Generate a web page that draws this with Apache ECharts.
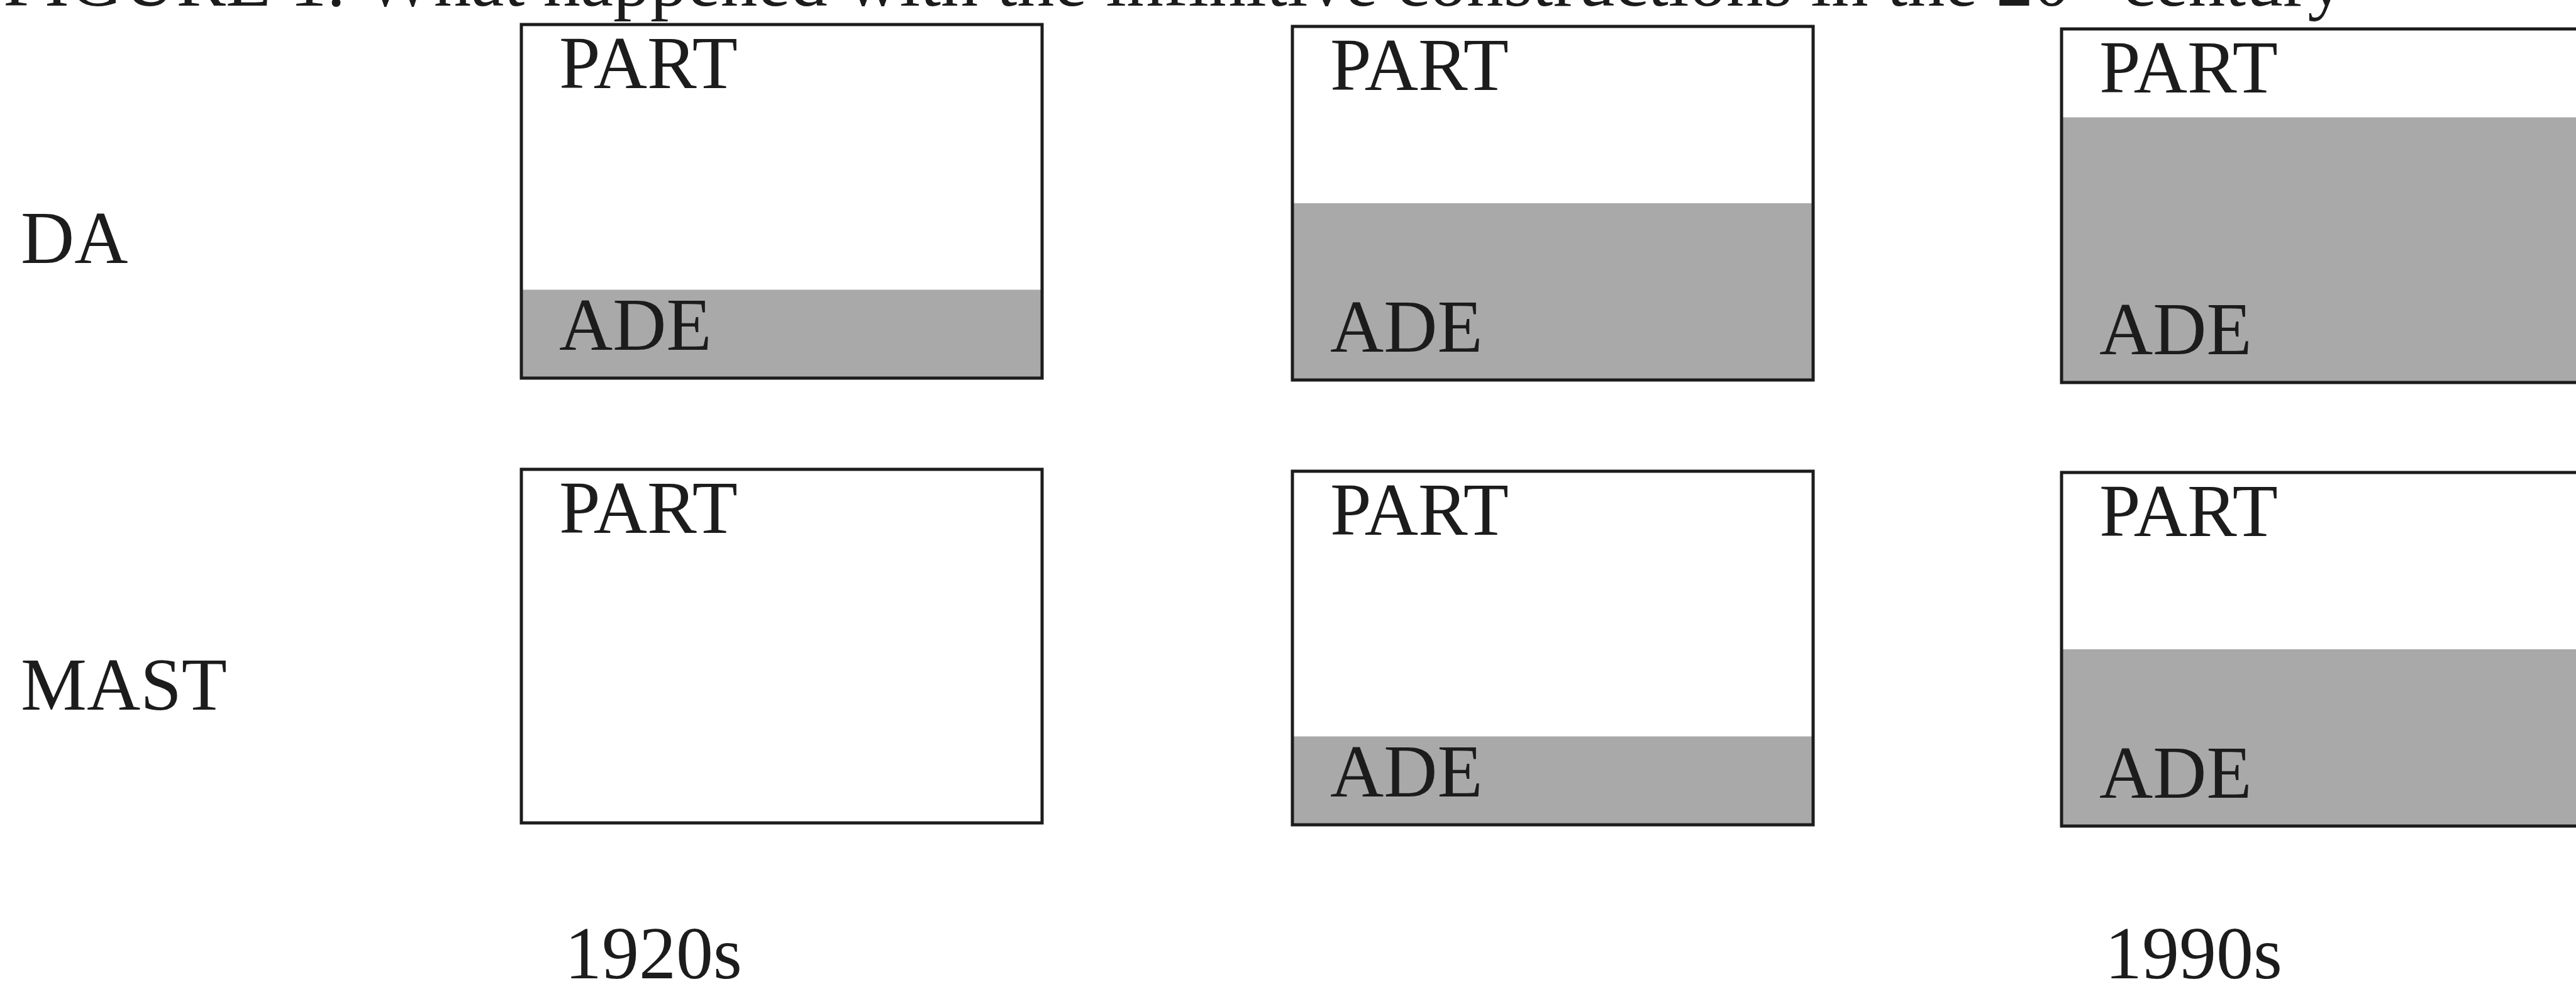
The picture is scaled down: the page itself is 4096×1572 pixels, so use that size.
<!DOCTYPE html>
<html>
<head>
<meta charset="utf-8">
<script src="https://cdn.jsdelivr.net/npm/echarts@6.0.0/dist/echarts.min.js"></script>
<style>
    html, body { margin: 0; padding: 0; background: #fff; }
    #main { width: 4096px; height: 1572px; }
</style>
</head>
<body>
<div id="main"></div>
<script>
// values: share (%) of the grey ADE part in each box
var rowNames = ['DA', 'MAST'];
var decadeLabels = ['1920s', '', '1990s'];
var daAde = [25, 50, 75];
var mastAde = [0, 25, 50];
var titleMain = 'FIGURE 1. What happened with the infinitive constructions in the 20';
var titleSup = 'th';
var titleEnd = ' century';

var adeRows = [daAde, mastAde];

// layout
var serif = "'Liberation Serif', 'Times New Roman', serif";
var ink = '#1c1c1c';
var grey = '#a9a9a9';
var colLeft = [829, 2055, 3278];
var rowTop = [[39, 42, 46], [746, 749, 751]];
var boxW = 828, boxH = 562;
var fs = 118;

var myChart = echarts.init(document.getElementById('main'));

var grids = [], xAxes = [], yAxes = [], series = [];
for (var r = 0; r < adeRows.length; r++) {
    for (var c = 0; c < decadeLabels.length; c++) {
        var i = grids.length;
        var ade = adeRows[r][c];
        grids.push({
            show: true, z: 10,
            left: colLeft[c], top: rowTop[r][c], width: boxW, height: boxH,
            borderColor: ink, borderWidth: 5, backgroundColor: 'transparent',
            outerBoundsMode: 'none'
        });
        xAxes.push({ type: 'category', gridIndex: i, data: [decadeLabels[c] || ('col' + c)], show: false });
        yAxes.push({ type: 'value', gridIndex: i, min: 0, max: 100, show: false });

        // grey part (ADE) at the bottom
        series.push({
            name: 'ADE', type: 'bar', xAxisIndex: i, yAxisIndex: i,
            stack: 'box' + i, barWidth: '100%', silent: true,
            data: [ade],
            itemStyle: { color: grey, borderWidth: 0 },
            label: {
                show: ade > 0, formatter: 'ADE', position: 'insideBottomLeft',
                distance: 0, offset: [60, -17],
                color: ink, fontFamily: serif, fontSize: fs, textBorderWidth: 0
            }
        });
        // white part (PART) above it
        series.push({
            name: 'PART', type: 'bar', xAxisIndex: i, yAxisIndex: i,
            stack: 'box' + i, barWidth: '100%', silent: true,
            data: [100 - ade],
            itemStyle: { color: 'rgba(0,0,0,0)', borderWidth: 0 },
            label: {
                show: true, formatter: 'PART', position: 'insideTopLeft',
                distance: 0, offset: [60, 11],
                color: ink, fontFamily: serif, fontSize: fs, textBorderWidth: 0
            }
        });
    }
}

// texts outside the boxes
var graphics = [];
graphics.push({
    type: 'text', silent: true,
    style: {
        x: 5, y: 37, verticalAlign: 'bottom', align: 'left',
        text: '{a|' + titleMain + '}{b|' + titleSup + '}{a|' + titleEnd + '}',
        rich: {
            a: { fontFamily: serif, fontSize: fs, fill: ink },
            b: { fontFamily: serif, fontSize: 68, fill: ink, verticalAlign: 'top' }
        },
        fill: ink
    }
});
var rowBaseline = [427, 1137];
for (var k = 0; k < rowNames.length; k++) {
    graphics.push({
        type: 'text', silent: true,
        style: {
            x: 33, y: rowBaseline[k] + 19, verticalAlign: 'bottom', align: 'left',
            text: rowNames[k], fontFamily: serif, fontSize: fs, fill: ink
        }
    });
}
for (var d = 0; d < decadeLabels.length; d++) {
    if (!decadeLabels[d]) continue;
    graphics.push({
        type: 'text', silent: true,
        style: {
            x: colLeft[d] + 69, y: 1564 + 19, verticalAlign: 'bottom', align: 'left',
            text: decadeLabels[d], fontFamily: serif, fontSize: fs, fill: ink
        }
    });
}

var option = {
    animation: false,
    backgroundColor: '#fff',
    grid: grids,
    xAxis: xAxes,
    yAxis: yAxes,
    series: series,
    graphic: graphics
};

myChart.setOption(option);
</script>
</body>
</html>
